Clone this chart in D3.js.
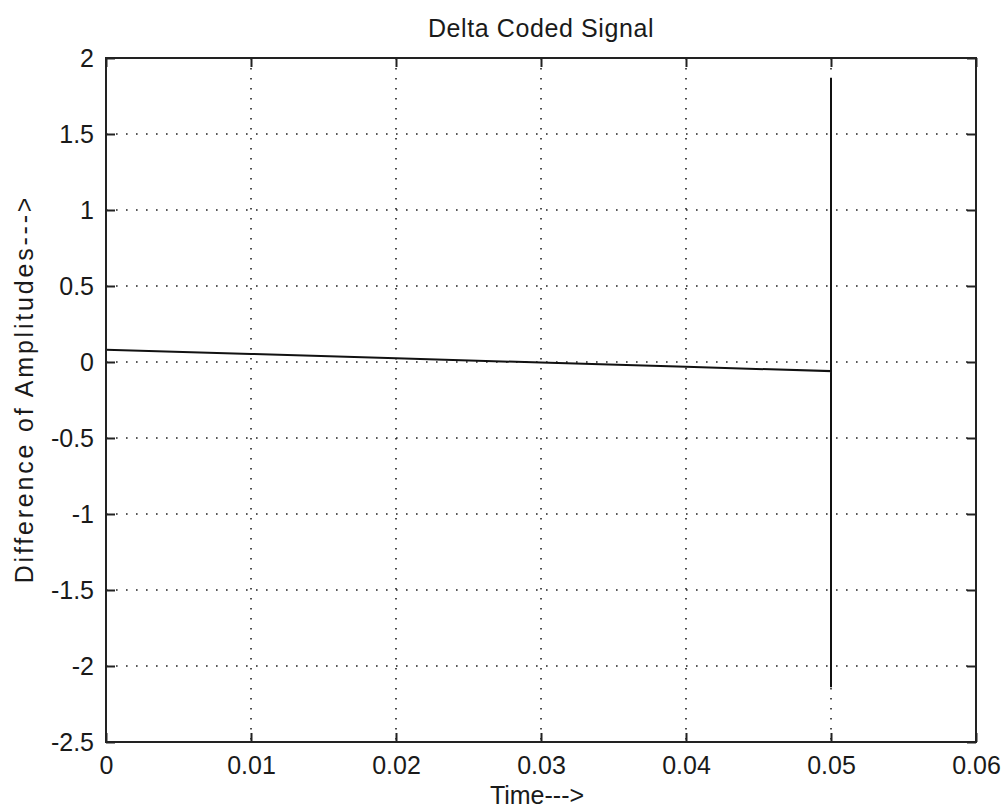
<!DOCTYPE html>
<html>
<head>
<meta charset="utf-8">
<script src="https://cdn.jsdelivr.net/npm/d3@7"></script>
<style>
  html, body { margin: 0; padding: 0; background: #ffffff; }
  svg text { font-family: "Liberation Sans", Arial, sans-serif; fill: #1a1a1a; }
</style>
</head>
<body>
<div id="chart"></div>
<script>
// Podaci (procjena s slike)
const timeValues = [0, 0.01, 0.02, 0.03, 0.04, 0.05, 0.05, 0.05];
const amplitudeValues = [0.08, 0.053, 0.025, -0.004, -0.032, -0.06, 1.87, -2.14];

const xTicks = [0, 0.01, 0.02, 0.03, 0.04, 0.05, 0.06];
const xTickLabels = ["0", "0.01", "0.02", "0.03", "0.04", "0.05", "0.06"];
const yTicks = [2, 1.5, 1, 0.5, 0, -0.5, -1, -1.5, -2, -2.5];
const yTickLabels = ["2", "1.5", "1", "0.5", "0", "-0.5", "-1", "-1.5", "-2", "-2.5"];

const titleText = "Delta Coded Signal";
const xLabelText = "Time--->";
const yLabelText = "Difference of Amplitudes--->";

// Dimenzije
const W = 1003, H = 808;
const margin = { top: 58, right: 27, bottom: 66, left: 106 };
const width = W - margin.left - margin.right;
const height = H - margin.top - margin.bottom;
const fontSize = "25px";

const svg = d3.select("#chart").append("svg")
    .attr("width", W)
    .attr("height", H);

const g = svg.append("g")
    .attr("transform", `translate(${margin.left},${margin.top})`);

// Skaliranje
const x = d3.scaleLinear().domain([0, 0.06]).range([0, width]);
const y = d3.scaleLinear().domain([-2.5, 2]).range([height, 0]);

// Mreža (točkaste linije)
g.append("g").selectAll("line")
    .data(xTicks.slice(1, -1))
    .enter().append("line")
    .attr("x1", d => x(d)).attr("x2", d => x(d))
    .attr("y1", 0).attr("y2", height)
    .attr("stroke", "#222")
    .attr("stroke-width", 1.6)
    .attr("stroke-dasharray", "1.6,8.4");

g.append("g").selectAll("line")
    .data(yTicks.slice(1, -1))
    .enter().append("line")
    .attr("x1", 0).attr("x2", width)
    .attr("y1", d => y(d)).attr("y2", d => y(d))
    .attr("stroke", "#222")
    .attr("stroke-width", 1.6)
    .attr("stroke-dasharray", "1.6,8.4");

// Signal
const line = d3.line()
    .x((d, i) => x(timeValues[i]))
    .y(d => y(d));

g.append("path")
    .datum(amplitudeValues)
    .attr("d", line)
    .attr("fill", "none")
    .attr("stroke", "#111")
    .attr("stroke-width", 2);

// Osi (kvačice prema unutra)
const tickLen = 9;
g.append("g")
    .attr("transform", `translate(0,${height})`)
    .call(d3.axisBottom(x).tickValues(xTicks).tickSize(-tickLen).tickPadding(14)
        .tickFormat((d, i) => xTickLabels[i]))
    .call(a => a.select(".domain").remove())
    .call(a => a.selectAll("line").attr("stroke", "#222").attr("stroke-width", 2))
    .call(a => a.selectAll("text").style("font-size", fontSize).attr("fill", "#1a1a1a"));

g.append("g")
    .call(d3.axisTop(x).tickValues(xTicks).tickSize(-tickLen).tickFormat(""))
    .call(a => a.select(".domain").remove())
    .call(a => a.selectAll("line").attr("stroke", "#222").attr("stroke-width", 2));

g.append("g")
    .call(d3.axisLeft(y).tickValues(yTicks).tickSize(-tickLen).tickPadding(12)
        .tickFormat((d, i) => yTickLabels[i]))
    .call(a => a.select(".domain").remove())
    .call(a => a.selectAll("line").attr("stroke", "#222").attr("stroke-width", 2))
    .call(a => a.selectAll("text").style("font-size", fontSize).attr("fill", "#1a1a1a"));

g.append("g")
    .attr("transform", `translate(${width},0)`)
    .call(d3.axisRight(y).tickValues(yTicks).tickSize(-tickLen).tickFormat(""))
    .call(a => a.select(".domain").remove())
    .call(a => a.selectAll("line").attr("stroke", "#222").attr("stroke-width", 2));

// Okvir
g.append("rect")
    .attr("x", 0).attr("y", 0)
    .attr("width", width).attr("height", height)
    .attr("fill", "none")
    .attr("stroke", "#222")
    .attr("stroke-width", 2);

// Naslov i oznake osi
svg.append("text")
    .attr("x", margin.left + width / 2)
    .attr("y", 37)
    .attr("text-anchor", "middle")
    .style("font-size", fontSize)
    .style("letter-spacing", "0.6px")
    .text(titleText);

svg.append("text")
    .attr("x", margin.left + width / 2 - 4)
    .attr("y", 804)
    .attr("text-anchor", "middle")
    .style("font-size", fontSize)
    .text(xLabelText);

svg.append("text")
    .attr("transform", `translate(33,389) rotate(-90)`)
    .attr("text-anchor", "middle")
    .style("font-size", fontSize)
    .style("letter-spacing", "2.8px")
    .text(yLabelText);
</script>
</body>
</html>
